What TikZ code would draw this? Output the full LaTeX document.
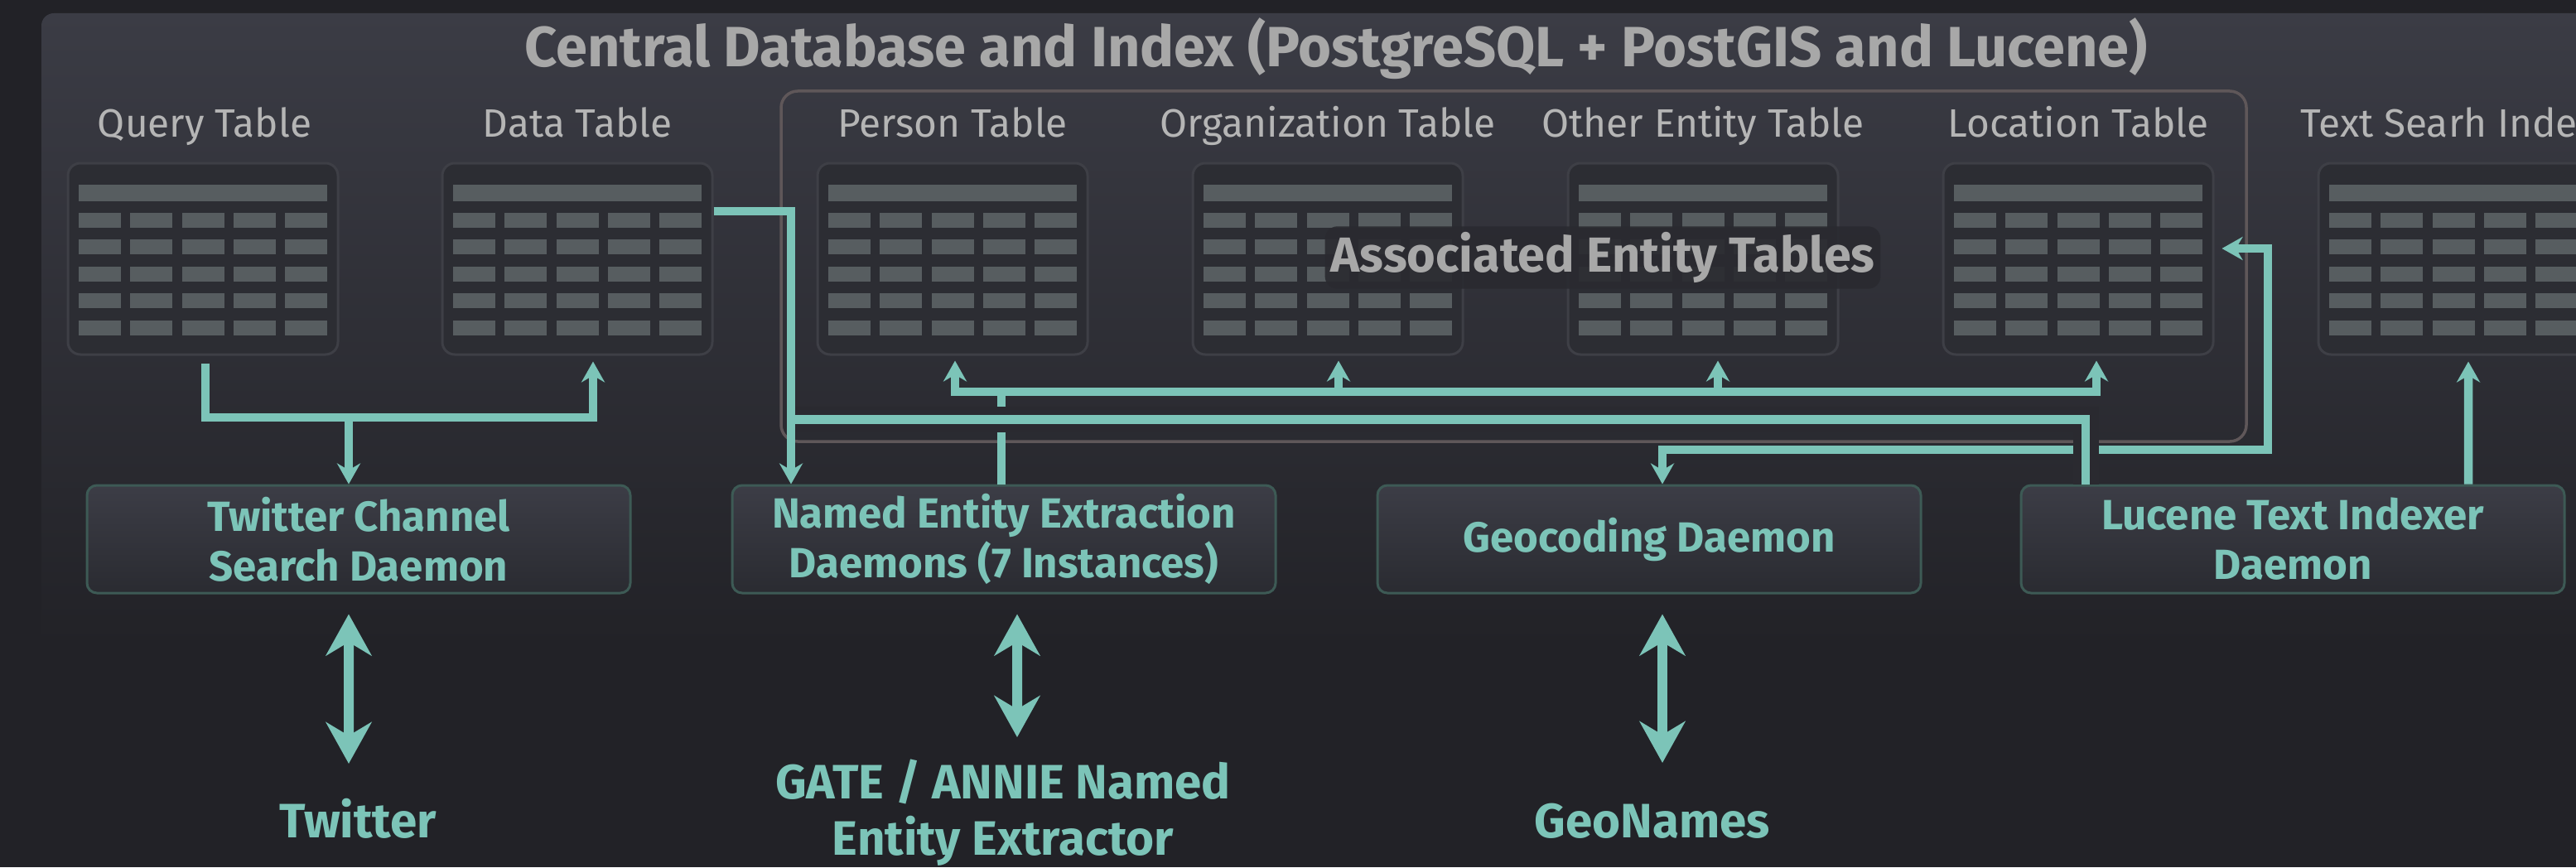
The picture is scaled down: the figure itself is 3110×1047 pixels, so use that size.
\documentclass[tikz,border=0pt]{standalone}
\usepackage{fontspec}
\setmainfont{Fira Sans}
\usetikzlibrary{arrows.meta,calc}

\definecolor{bgdark}{HTML}{222227}
\definecolor{paneltop}{HTML}{3B3C45}
\definecolor{halo}{HTML}{2A2A30}
\definecolor{tabfill}{HTML}{2C2D33}
\definecolor{tabline}{HTML}{3E3F46}
\definecolor{barfill}{HTML}{575D60}
\definecolor{labgray}{HTML}{B5B5B5}
\definecolor{titlegray}{HTML}{A8A8A8}
\definecolor{flowteal}{HTML}{7CC4B8}
\definecolor{daemontop}{HTML}{3C3D46}
\definecolor{daemonbot}{HTML}{2A2B31}
\definecolor{daemonline}{HTML}{3D5A55}
\definecolor{groupline}{HTML}{5F5759}

\begin{document}
\begin{tikzpicture}[x=0.1mm, y=-0.1mm, >={Stealth[length=2.5mm,width=2.8mm]}]
  \tikzset{TableStyle/.style = {
    shape          = rectangle,
    rounded corners = 1.5mm,
    draw           = tabline,
    line width     = 0.3mm,
    fill           = tabfill,
    minimum width  = 32.6mm,
    minimum height = 23.1mm,
    inner sep      = 0pt,
    path picture   = {
      \begin{scope}[shift={(path picture bounding box.center)}, sharp corners]
        \fill[barfill] (-15mm,9mm) rectangle (15mm,7mm);
        \foreach \r in {0,...,4}
          \foreach \c in {0,...,4}
            \fill[barfill] ({(-15+6.225*\c)*1mm},{(5.6-3.26*\r)*1mm}) rectangle ++(5.1mm,-1.8mm);
      \end{scope}
      }
    }
  }
  \tikzset{LabelStyle/.style = {
    text      = labgray,
    font      = \fontsize{13.6}{16}\selectfont,
    anchor    = base,
    inner sep = 0pt
    }
  }
  \tikzset{TitleStyle/.style = {
    text      = titlegray,
    font      = \fontsize{19.5}{24}\selectfont\bfseries,
    anchor    = base,
    inner sep = 0pt
    }
  }
  \tikzset{GroupLabelStyle/.style = {
    text            = titlegray,
    font            = \fontsize{16.9}{20}\selectfont\bfseries,
    fill            = halo,
    fill opacity    = 0.9,
    text opacity    = 1,
    rounded corners = 1.5mm,
    inner sep       = 0.7mm
    }
  }
  \tikzset{DaemonStyle/.style = {
    shape           = rectangle,
    rounded corners = 1.2mm,
    draw            = daemonline,
    line width      = 0.3mm,
    top color       = daemontop,
    bottom color    = daemonbot,
    minimum width   = 65.6mm,
    minimum height  = 13mm,
    text            = flowteal,
    font            = \fontsize{14.5}{17.1}\selectfont\bfseries,
    align           = center,
    inner sep       = 0pt
    }
  }
  \tikzset{EndStyle/.style = {
    text      = flowteal,
    font      = \fontsize{16.6}{19.3}\selectfont\bfseries,
    align     = center,
    inner sep = 0pt
    }
  }
  \tikzset{FlowStyle/.style = {
    draw       = flowteal,
    line width = 1.05mm
    }
  }
  \tikzset{HaloStyle/.style = {
    preaction = {draw = halo, line width = 3.1mm, -}
    }
  }
  \tikzset{BigFlowStyle/.style = {
    draw       = flowteal,
    line width = 1.2mm,
    {Stealth[length=5mm,width=5.5mm]}-{Stealth[length=5mm,width=5.5mm]}
    }
  }

  \clip (0,0) rectangle (3110,1047);
  \fill[bgdark] (0,0) rectangle (3110,1047);
  \shade[top color=paneltop, bottom color=bgdark, rounded corners=1.5mm] (50,16) rectangle (3200,780);

  \node[TitleStyle] (title) at (1613,81) {Central Database and Index (PostgreSQL + PostGIS and Lucene)};

  % entity group
  \draw[groupline, line width=0.35mm, rounded corners=2mm] (943,110) rectangle (2712,533);

  % tables
  \node[TableStyle] (qry) at (245,312.5) {};
  \node[TableStyle] (dat) at (697,312.5) {};
  \node[TableStyle] (per) at (1150,312.5) {};
  \node[TableStyle] (org) at (1603,312.5) {};
  \node[TableStyle] (oth) at (2056,312.5) {};
  \node[TableStyle] (loc) at (2509,312.5) {};
  \node[TableStyle] (txt) at (2962,312.5) {};
  \node[LabelStyle] (qrylab) at (247,166) {Query Table};
  \node[LabelStyle] (datlab) at (697,166) {Data Table};
  \node[LabelStyle] (perlab) at (1150,166) {Person Table};
  \node[LabelStyle] (orglab) at (1603,166) {Organization Table};
  \node[LabelStyle] (othlab) at (2056,166) {Other Entity Table};
  \node[LabelStyle] (loclab) at (2509,166) {Location Table};
  \node[LabelStyle] (txtlab) at (2956,166) {Text Searh Index};
  \node[GroupLabelStyle] (grplab) at (1935,311) {Associated Entity Tables};

  % daemons
  \node[DaemonStyle] (tw) at (433,651) {Twitter Channel\\Search Daemon};
  \node[DaemonStyle] (ner) at (1212,651) {Named Entity Extraction\\Daemons (7 Instances)};
  \node[DaemonStyle] (geo) at (1991,651) {Geocoding Daemon};
  \node[DaemonStyle] (luc) at (2768,651) {Lucene Text Indexer\\Daemon};

  % outside services
  \node[EndStyle, anchor=base] (twl) at (432,1011) {Twitter};
  \node[EndStyle] (gate) at (1211,981) {GATE / ANNIE Named\\Entity Extractor};
  \node[EndStyle, anchor=base] (geol) at (1995,1011) {GeoNames};

  % query table -> twitter daemon -> data table
  \coordinate (twbus) at (421,504);
  \draw[FlowStyle, ->, shorten <=0.9mm, shorten >=0.7mm] ([xshift=0.3mm]qry.south) |- (twbus) -| ([xshift=1.9mm]dat.south);
  \draw[FlowStyle, ->] (twbus) -- (twbus |- tw.north);

  % ner daemon -> entity tables
  \coordinate (entbus) at (1800,473);
  \draw[FlowStyle] ([xshift=-0.3mm]ner.north) -- ([xshift=-0.3mm]ner.north |- entbus);
  \draw[FlowStyle, <->, shorten <=0.6mm, shorten >=0.6mm] ([xshift=0.3mm]per.south) |- (entbus) -| ([xshift=2.2mm]loc.south);
  \draw[FlowStyle, ->, shorten >=0.6mm] ([xshift=1.3mm]org.south |- entbus) -- ([xshift=1.3mm]org.south);
  \draw[FlowStyle, ->, shorten >=0.6mm] ([xshift=1.8mm]oth.south |- entbus) -- ([xshift=1.8mm]oth.south);

  % geocoding daemon <-> location table
  \coordinate (geobend) at (2738,543);
  \draw[FlowStyle, <->, shorten <=0.9mm] ([yshift=1.25mm]loc.east) -| (geobend) -| ([xshift=1.6mm]geo.north);

  % data table -> lucene daemon, ner daemon
  \draw[FlowStyle, HaloStyle] ([xshift=-25mm]luc.north) |- ([xshift=-25.7mm, yshift=7.8mm]ner.north);
  \draw[FlowStyle, ->] ([yshift=5.75mm]dat.east) -| ([xshift=-25.7mm]ner.north);

  % lucene daemon -> text index
  \draw[FlowStyle, ->, shorten >=0.7mm] ([xshift=21.2mm]luc.north) -- ([xshift=1.8mm]txt.south);

  % daemons <-> outside services
  \draw[BigFlowStyle, shorten <=2.4mm] ([xshift=-1.2mm]tw.south) -- ([xshift=-1.1mm, yshift=8.9mm]twl.base);
  \draw[BigFlowStyle, shorten <=2.4mm, shorten >=2.6mm] ([xshift=1.6mm]ner.south) -- ([xshift=1.7mm]gate.north);
  \draw[BigFlowStyle, shorten <=2.4mm] ([xshift=1.6mm]geo.south) -- ([xshift=1.2mm, yshift=9mm]geol.base);
\end{tikzpicture}
\end{document}
